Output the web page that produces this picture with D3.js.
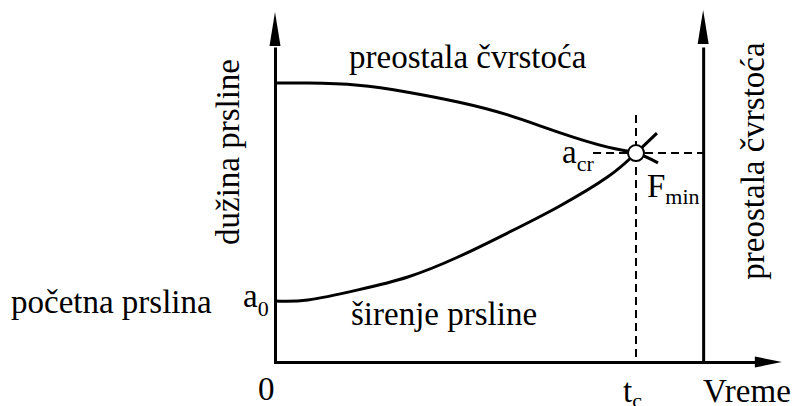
<!DOCTYPE html>
<html>
<head>
<meta charset="utf-8">
<script src="https://cdn.jsdelivr.net/npm/d3@7"></script>
<style>
  html, body { margin: 0; padding: 0; background: #fff; }
  svg { display: block; }
</style>
</head>
<body>
<svg id="chart" width="792" height="406"></svg>
<script>
// Time axis: 0 at origin, t_c = 100 (critical time); crack length: 0..100
const timeTicks = [0, 100];
const timeTickLabels = ["0", "t"];
const timeTickSubs = ["", "c"];
const tCrit = 100;
const tStrengthAxis = 118.6;
const tMax = 140.4;

const a0 = 17.4;     // initial crack length
const aCrit = 59.7;  // critical crack length

// residual strength curve (decreasing), continued slightly past t_c
const strengthT = [0, 9.1, 23.0, 36.8, 50.7, 64.5, 78.4, 92.2, 100, 106.1];
const strengthV = [79.7, 79.7, 79.1, 77.1, 74.3, 70.6, 65.7, 61.4, 59.7, 56.9];

// crack growth curve (increasing), continued slightly past t_c
const growthT = [0, 9.1, 23.0, 36.8, 50.7, 64.5, 78.4, 92.2, 100, 105.8];
const growthV = [17.4, 17.7, 20.6, 24.3, 30.0, 36.9, 44.3, 52.9, 59.7, 65.4];

const FONT = "'Liberation Serif'";
const FS = 33, SUB = 22;

const svg = d3.select("#chart");

const x = d3.scaleLinear().domain([0, 100]).range([275, 636]);
const y = d3.scaleLinear().domain([0, 100]).range([362, 12]);

const axisW = 3;

// horizontal time axis
svg.append("g")
  .attr("transform", `translate(0,${y(0)})`)
  .call(d3.axisBottom(x.copy().domain([0, tMax - 7.5]).range([x(0) - 1.5, x(tMax - 7.5)])).tickValues([]).tickSizeOuter(0))
  .call(g => g.select(".domain").attr("stroke", "#000").attr("stroke-width", axisW));

// crack length axis (left)
svg.append("g")
  .attr("transform", `translate(${x(0)},0)`)
  .call(d3.axisLeft(y.copy().domain([0, 90]).range([y(0), y(90)])).tickValues([]).tickSizeOuter(0))
  .call(g => g.select(".domain").attr("stroke", "#000").attr("stroke-width", axisW));

// residual strength axis (right)
svg.append("g")
  .attr("transform", `translate(${x(tStrengthAxis)},0)`)
  .call(d3.axisRight(y.copy().domain([0, 90]).range([y(0), y(90)])).tickValues([]).tickSizeOuter(0))
  .call(g => g.select(".domain").attr("stroke", "#000").attr("stroke-width", axisW));

// arrow heads
const arrow = (pts) => svg.append("path").attr("d", d3.line()(pts) + "Z").attr("fill", "#000");
arrow([[x(tMax), y(0)], [x(tMax) - 27, y(0) - 5.5], [x(tMax) - 27, y(0) + 5.5]]);
arrow([[x(0), y(100)], [x(0) - 5.5, y(100) + 34], [x(0) + 5.5, y(100) + 34]]);
arrow([[x(tStrengthAxis), y(100.6)], [x(tStrengthAxis) - 5.5, y(100.6) + 34], [x(tStrengthAxis) + 5.5, y(100.6) + 34]]);

// dashed guide lines at t_c and a_cr
svg.append("line")
  .attr("x1", x(tCrit)).attr("x2", x(tCrit))
  .attr("y1", y(70.6)).attr("y2", y(0))
  .attr("stroke", "#000").attr("stroke-width", 2).attr("stroke-dasharray", "8,5");
svg.append("line")
  .attr("x1", x(88.1)).attr("x2", x(tStrengthAxis))
  .attr("y1", y(aCrit)).attr("y2", y(aCrit))
  .attr("stroke", "#000").attr("stroke-width", 2).attr("stroke-dasharray", "8,5");

// curves
const line = d3.line().x(d => x(d[0])).y(d => y(d[1])).curve(d3.curveNatural);
svg.append("path")
  .datum(d3.zip(strengthT, strengthV))
  .attr("d", line).attr("fill", "none").attr("stroke", "#000").attr("stroke-width", 3);
svg.append("path")
  .datum(d3.zip(growthT, growthV))
  .attr("d", line).attr("fill", "none").attr("stroke", "#000").attr("stroke-width", 3);

// critical point
svg.append("circle")
  .attr("cx", x(tCrit)).attr("cy", y(aCrit)).attr("r", 8)
  .attr("fill", "#fff").attr("stroke", "#000").attr("stroke-width", 2);

function text(px, py, s) {
  return svg.append("text").attr("x", px).attr("y", py)
    .attr("font-family", FONT).attr("font-size", FS).attr("fill", "#000").text(s);
}

function label(px, py, main, sub, subDy) {
  const t = svg.append("text").attr("x", px).attr("y", py)
    .attr("font-family", FONT).attr("font-size", FS).attr("fill", "#000");
  t.append("tspan").text(main);
  if (sub) t.append("tspan").attr("font-size", SUB).attr("dy", subDy).text(sub);
  return t;
}

// time tick labels
timeTicks.forEach((v, i) => {
  label(x(v) - (i === 0 ? 17 : 13), i === 0 ? 400 : 402, timeTickLabels[i], timeTickSubs[i], 6);
});
text(703, 402, "Vreme");

// crack length labels
label(243, y(a0) + 6, "a", "0", 9);
label(562, y(aCrit) + 10, "a", "cr", 8);
label(647, 197, "F", "min", 7);

// curve labels
text(349, 68, "preostala čvrstoća");
text(351, 325, "širenje prsline");
text(11, 313, "početna prslina");

// axis titles (rotated)
svg.append("text").attr("transform", "translate(239,152) rotate(-90)")
  .attr("font-family", FONT).attr("text-anchor", "middle").attr("font-size", FS).text("dužina prsline");
svg.append("text").attr("transform", "translate(764,161) rotate(-90)")
  .attr("font-family", FONT).attr("text-anchor", "middle").attr("font-size", FS).text("preostala čvrstoća");
</script>
</body>
</html>
